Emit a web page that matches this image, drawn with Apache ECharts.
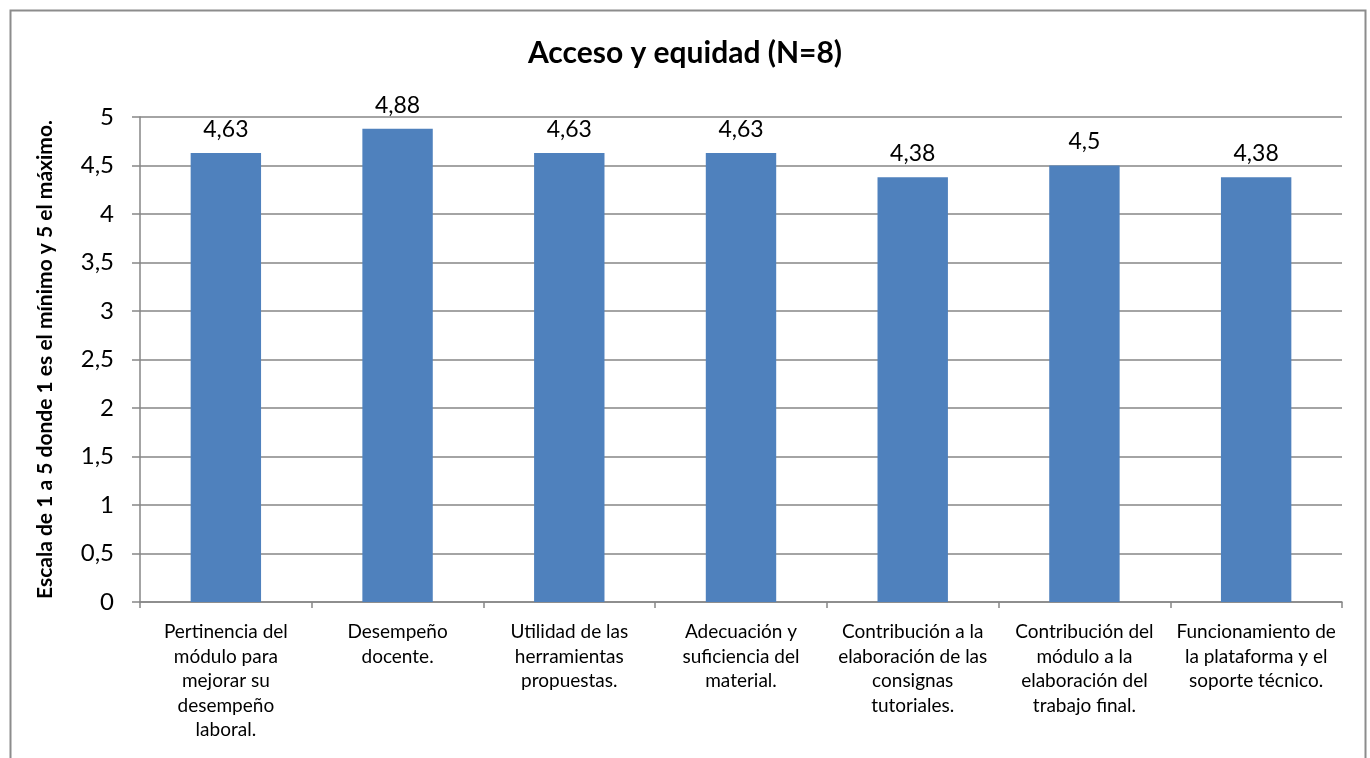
<!DOCTYPE html>
<html><head><meta charset="utf-8">
<script src="https://cdn.jsdelivr.net/npm/echarts@6/dist/echarts.min.js"></script>
<style>html,body{margin:0;padding:0;background:#fff}#c{width:1370px;height:758px}</style>
</head><body><div id="c"></div>
<script>
const titleText = 'Acceso y equidad (N=8)';
const yAxisName = 'Escala de 1 a 5 donde 1 es el mínimo y 5 el máximo.';
const categories = [
  'Pertinencia del\nmódulo para\nmejorar su\ndesempeño\nlaboral.',
  'Desempeño\ndocente.',
  'Utilidad de las\nherramientas\npropuestas.',
  'Adecuación y\nsuficiencia del\nmaterial.',
  'Contribución a la\nelaboración de las\nconsignas\ntutoriales.',
  'Contribución del\nmódulo a la\nelaboración del\ntrabajo final.',
  'Funcionamiento de\nla plataforma y el\nsoporte técnico.'
];
const values = [4.63, 4.88, 4.63, 4.63, 4.38, 4.5, 4.38];

const font = 'Lato, "Open Sans", sans-serif';
const fmt = v => String(v).replace('.', ',');
const chart = echarts.init(document.getElementById('c'));
chart.setOption({
  animation: false,
  textStyle: {fontFamily: font},
  graphic: [{
    type: 'rect', left: 8, top: 8, silent: true,
    shape: {width: 1355, height: 760},
    style: {fill: 'none', stroke: '#8c8c8c', lineWidth: 2}
  }],
  title: {
    text: titleText, left: 'center', top: 33,
    textStyle: {fontFamily: font, fontWeight: 'bold', fontSize: 30, color: '#000'}
  },
  grid: {left: 140, right: 28, top: 117, bottom: 156, containLabel: false},
  xAxis: {
    type: 'category', data: categories,
    axisLine: {lineStyle: {color: '#868686', width: 1.5}},
    axisTick: {show: true, length: 6, lineStyle: {color: '#868686', width: 1.5}},
    axisLabel: {color: '#000', fontSize: 19, lineHeight: 24.5, margin: 18, interval: 0, fontFamily: font}
  },
  yAxis: {
    type: 'value', min: 0, max: 5, interval: 0.5,
    name: yAxisName, nameLocation: 'middle', nameGap: 84,
    nameTextStyle: {fontFamily: font, fontWeight: 'bold', fontSize: 21, color: '#000'},
    axisLine: {show: true, lineStyle: {color: '#868686', width: 1.5}},
    axisTick: {show: true, length: 8, lineStyle: {color: '#868686', width: 1.5}},
    splitLine: {lineStyle: {color: '#868686', width: 1.5}},
    axisLabel: {color: '#000', fontSize: 24, margin: 26, formatter: v => fmt(v), fontFamily: font}
  },
  series: [{
    type: 'bar', data: values, barWidth: '41%',
    itemStyle: {color: '#4F81BD'},
    label: {show: true, position: 'top', distance: 12, color: '#000', fontSize: 23, fontFamily: font,
      formatter: p => fmt(p.value)}
  }]
});
</script></body></html>
